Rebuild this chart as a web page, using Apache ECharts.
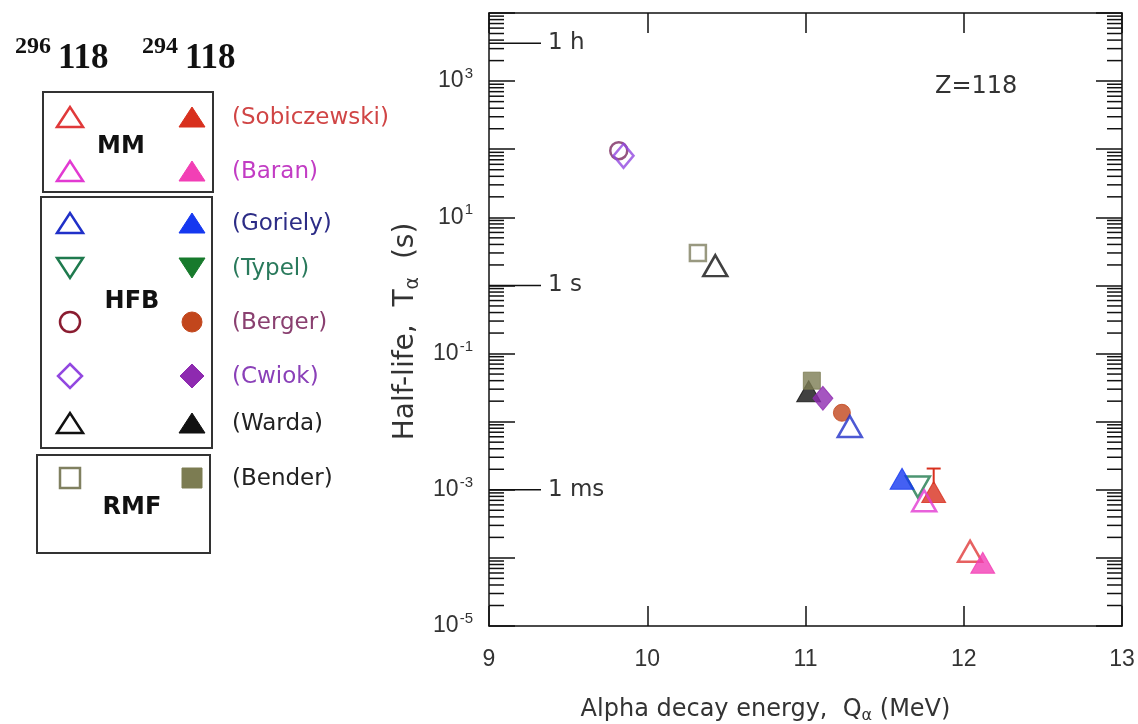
<!DOCTYPE html>
<html><head><meta charset="utf-8">
<script src="https://cdn.jsdelivr.net/npm/echarts@6/dist/echarts.min.js"></script>
<style>html,body{margin:0;padding:0;background:#fff}#c{width:1138px;height:724px}</style>
</head><body><div id="c"></div>
<script>
// ---------- DATA ----------
// 296-118 (open symbols): [Q_alpha (MeV), half-life (s)]
const sobiczewski296 = [[12.04, 1.25e-4]];
const baran296       = [[11.75, 6.9e-4]];
const goriely296     = [[11.28, 8.5e-3]];
const typel296       = [[11.71, 1.1e-3]];
const berger296      = [[9.82, 95]];
const cwiok296       = [[9.85, 80]];
const warda296       = [[10.43, 1.95]];
const bender296      = [[10.32, 3.0]];
// 294-118 (filled symbols)
const sobiczewski294 = [[11.81, 9.3e-4]];
const sobiczewski294Upper = [2.05e-3];
const baran294       = [[12.12, 8.5e-5]];
const goriely294     = [[11.61, 1.45e-3]];
const typel294       = [];
const berger294      = [[11.23, 1.35e-2]];
const cwiok294       = [[11.11, 2.2e-2]];
const warda294       = [[11.02, 2.8e-2]];
const bender294      = [[11.04, 4.0e-2]];
// reference time marks
const timeMarkValues = [3600, 1, 1e-3];
const timeMarkLabels = ['1 h', '1 s', '1 ms'];
// axis
const xMin = 9, xMax = 13;
const yMin = 1e-5, yMax = 1e4;
const yLabelExponents = [-5, -3, -1, 1, 3];
// legend texts
const legendNames = ['(Sobiczewski)', '(Baran)', '(Goriely)', '(Typel)', '(Berger)', '(Cwiok)', '(Warda)', '(Bender)'];
const groupNames = ['MM', 'HFB', 'RMF'];

// ---------- STYLE ----------
const FONT = '"Liberation Sans", Arial, sans-serif';
const WFONT = '"DejaVu Sans", Verdana, sans-serif';
const C = {
  sob:  {open:'#e0393a', fill:'#d8301e', text:'#d04545'},
  bar:  {open:'#e23ad2', fill:'#f23fb5', text:'#c23cc4'},
  gor:  {open:'#2030c8', fill:'#1538f0', text:'#2c2c86'},
  typ:  {open:'#1f7a4e', fill:'#177a2c', text:'#2a7a5c'},
  ber:  {open:'#8a1c30', fill:'#c2461c', text:'#8a4070'},
  cwi:  {open:'#9248e0', fill:'#8e2ab0', text:'#8a40b8'},
  war:  {open:'#111111', fill:'#111111', text:'#222222'},
  ben:  {open:'#808060', fill:'#7c7c52', text:'#222222'}
};

// minor log ticks (axis decoration)
const minorTicks = [];
for (let n = -5; n < 4; n++) for (let k = 2; k <= 9; k++) minorTicks.push(k * Math.pow(10, n));

const chart = echarts.init(document.getElementById('c'), null, {renderer:'canvas'});

function scatter(name, data, shape, col, open, size, rotate) {
  return {
    name, type:'scatter', data, symbol:shape, symbolSize:size, symbolRotate:rotate || 0,
    itemStyle: open ? {color:'rgba(255,255,255,0)', borderColor:col, borderWidth:2.5}
                    : {color:col, borderColor:col, borderWidth:1},
    emphasis:{disabled:true}, silent:true, z:5
  };
}
const TRI = [24, 21];

const series = [
  {
    type:'custom', silent:true, z:3,
    data: minorTicks.map(v => [xMin, v]),
    renderItem(params, api) {
      const p = api.coord([xMin, api.value(1)]);
      const cs = params.coordSys;
      const st = {stroke:'#111', lineWidth:1.5};
      return {type:'group', children:[
        {type:'line', shape:{x1:cs.x, y1:p[1], x2:cs.x + 15, y2:p[1]}, style:st},
        {type:'line', shape:{x1:cs.x + cs.width, y1:p[1], x2:cs.x + cs.width - 15, y2:p[1]}, style:st}
      ]};
    }
  },
  {
    type:'custom', silent:true, z:3,
    data: timeMarkValues.map(v => [xMin, v]),
    renderItem(params, api) {
      const p = api.coord([xMin, api.value(1)]);
      const cs = params.coordSys;
      return {type:'group', children:[
        {type:'line', shape:{x1:cs.x, y1:p[1], x2:cs.x + 52, y2:p[1]}, style:{stroke:'#111', lineWidth:1.5}},
        {type:'text', x:cs.x + 59, y:p[1], style:{text:timeMarkLabels[params.dataIndex], fontSize:23, fontFamily:WFONT, fill:'#333', textVerticalAlign:'middle', textAlign:'left'}}
      ]};
    }
  },
  scatter('Berger 296', berger296, 'circle', '#7a2a60', true, 17),
  scatter('Cwiok 296', cwiok296, 'diamond', C.cwi.open, true, [20, 24]),
  scatter('Bender 296', bender296, 'rect', C.ben.open, true, 16),
  scatter('Warda 296', warda296, 'triangle', C.war.open, true, TRI),
  scatter('Warda 294', warda294, 'triangle', C.war.fill, false, TRI),
  scatter('Bender 294', bender294, 'rect', C.ben.fill, false, 17),
  scatter('Cwiok 294', cwiok294, 'diamond', C.cwi.fill, false, [20, 24]),
  scatter('Berger 294', berger294, 'circle', C.ber.fill, false, 17),
  scatter('Goriely 296', goriely296, 'triangle', C.gor.open, true, TRI),
  scatter('Typel 294', typel294, 'triangle', C.typ.fill, false, TRI, 180),
  scatter('Typel 296', typel296, 'triangle', C.typ.open, true, TRI, 180),
  scatter('Goriely 294', goriely294, 'triangle', C.gor.fill, false, TRI),
  scatter('Sobiczewski 294', sobiczewski294, 'triangle', C.sob.fill, false, TRI),
  {
    type:'custom', silent:true, z:6,
    data: sobiczewski294.map((d, i) => [d[0], d[1], sobiczewski294Upper[i]]),
    renderItem(params, api) {
      const p0 = api.coord([api.value(0), api.value(1)]);
      const p1 = api.coord([api.value(0), api.value(2)]);
      const st = {stroke:C.sob.fill, lineWidth:2};
      return {type:'group', children:[
        {type:'line', shape:{x1:p0[0], y1:p0[1] - 8, x2:p1[0], y2:p1[1]}, style:st},
        {type:'line', shape:{x1:p1[0] - 7, y1:p1[1], x2:p1[0] + 7, y2:p1[1]}, style:st}
      ]};
    }
  },
  scatter('Baran 296', baran296, 'triangle', C.bar.open, true, TRI),
  scatter('Sobiczewski 296', sobiczewski296, 'triangle', C.sob.open, true, TRI),
  scatter('Baran 294', baran294, 'triangle', C.bar.fill, false, TRI)
];

// ---------- LEGEND GRAPHICS ----------
const G = [];
function triPts(cx, cy, w, h, down) {
  return down ? [[cx - w/2, cy - h/2], [cx + w/2, cy - h/2], [cx, cy + h/2]]
              : [[cx - w/2, cy + h/2], [cx, cy - h/2], [cx + w/2, cy + h/2]];
}
function sym(shape, cx, cy, col, open) {
  const style = open ? {fill:'none', stroke:col, lineWidth:2.5} : {fill:col, stroke:col, lineWidth:1};
  if (shape === 'tri' || shape === 'dtri')
    return {type:'polygon', shape:{points:triPts(cx, cy, 26, 20, shape === 'dtri')}, style};
  if (shape === 'circle') return {type:'circle', shape:{cx, cy, r:10}, style};
  if (shape === 'diamond') return {type:'polygon', shape:{points:[[cx, cy - 12], [cx + 12, cy], [cx, cy + 12], [cx - 12, cy]]}, style};
  if (shape === 'rect') return {type:'rect', shape:{x:cx - 10, y:cy - 10, width:20, height:20}, style};
}
const rows = [
  {y:117, shape:'tri', c:C.sob}, {y:171, shape:'tri', c:C.bar},
  {y:223, shape:'tri', c:C.gor}, {y:268, shape:'dtri', c:C.typ},
  {y:322, shape:'circle', c:C.ber}, {y:376, shape:'diamond', c:C.cwi},
  {y:423, shape:'tri', c:C.war}, {y:478, shape:'rect', c:C.ben}
];
rows.forEach((r, i) => {
  G.push(sym(r.shape, 70, r.y, r.c.open, true));
  G.push(sym(r.shape, 192, r.y, r.c.fill, false));
  G.push({type:'text', x:232, y:r.y + 1, style:{text:legendNames[i], fontSize:23, fontFamily:WFONT, fill:r.c.text, textVerticalAlign:'middle'}});
});
const boxStyle = {fill:'none', stroke:'#333', lineWidth:2};
G.push({type:'rect', shape:{x:43, y:92, width:170, height:100}, style:boxStyle});
G.push({type:'rect', shape:{x:41, y:197, width:171, height:251}, style:boxStyle});
G.push({type:'rect', shape:{x:37, y:455, width:173, height:98}, style:boxStyle});
[[121, 147], [132, 302], [132, 508]].forEach((p, i) => {
  G.push({type:'text', x:p[0], y:p[1], style:{text:groupNames[i], fontSize:24, fontWeight:'bold', fontFamily:WFONT, fill:'#111', textAlign:'center', textVerticalAlign:'middle'}});
});
const SERIF = '"Liberation Serif", "DejaVu Serif", serif';
[[15, '296'], [142, '294']].forEach(h => {
  G.push({type:'text', x:h[0], y:47, style:{text:h[1], fontSize:24, fontWeight:'bold', fontFamily:SERIF, fill:'#111', textVerticalAlign:'middle'}});
  G.push({type:'text', x:h[0] + 43, y:59, style:{text:'118', fontSize:35, fontWeight:'bold', fontFamily:SERIF, fill:'#111', textVerticalAlign:'middle'}});
});
G.push({type:'text', x:935, y:87, style:{text:'Z=118', fontSize:24, fontFamily:WFONT, fill:'#333', textVerticalAlign:'middle'}});

const axisLine = {lineStyle:{color:'#111', width:1.5}};
const option = {
  backgroundColor:'#fff',
  animation:false,
  grid:{left:489, right:16, top:13, bottom:98, containLabel:false, outerBoundsMode:'none'},
  xAxis:[
    {type:'value', min:xMin, max:xMax, interval:1, position:'bottom',
     axisLine, axisTick:{inside:true, length:20, lineStyle:{color:'#111', width:1.5}},
     splitLine:{show:false},
     axisLabel:{fontSize:23, color:'#333', fontFamily:FONT, margin:22},
     name:'Alpha decay energy,  Q{sub|α} (MeV)', nameLocation:'middle', nameGap:70,
     nameTextStyle:{fontSize:24, color:'#333', fontFamily:WFONT, padding:[0, 80, 0, 0],
       rich:{sub:{fontSize:16, fontFamily:WFONT, color:'#333', padding:[12, 0, 0, 0]}}}},
    {type:'value', min:xMin, max:xMax, interval:1, position:'top',
     axisLine, axisTick:{inside:true, length:20, lineStyle:{color:'#111', width:1.5}},
     splitLine:{show:false}, axisLabel:{show:false}}
  ],
  yAxis:[
    {type:'log', logBase:10, min:yMin, max:yMax, splitNumber:9, position:'left',
     axisLine, axisTick:{inside:true, length:26, lineStyle:{color:'#111', width:1.5}},
     splitLine:{show:false},
     axisLabel:{margin:16, color:'#333', fontFamily:FONT,
       formatter(v) {
         const e = Math.round(Math.log10(v));
         return yLabelExponents.includes(e) ? '{b|10}{s|' + e + '}' : '';
       },
       rich:{b:{fontSize:23, color:'#333', fontFamily:FONT},
             s:{fontSize:15, color:'#333', fontFamily:FONT, padding:[0, 0, 14, 1]}}},
     name:'Half-life,  T{sub|α}  (s)', nameLocation:'middle', nameGap:62, nameRotate:90,
     nameTextStyle:{fontSize:28, color:'#333', fontFamily:WFONT, padding:[0, 24, 0, 0],
       rich:{sub:{fontSize:19, fontFamily:WFONT, color:'#333', padding:[14, 0, 0, 0]}}}},
    {type:'log', logBase:10, min:yMin, max:yMax, splitNumber:9, position:'right',
     axisLine, axisTick:{inside:true, length:26, lineStyle:{color:'#111', width:1.5}},
     splitLine:{show:false}, axisLabel:{show:false}}
  ],
  series,
  graphic:G
};
chart.setOption(option);
</script>
</body></html>
